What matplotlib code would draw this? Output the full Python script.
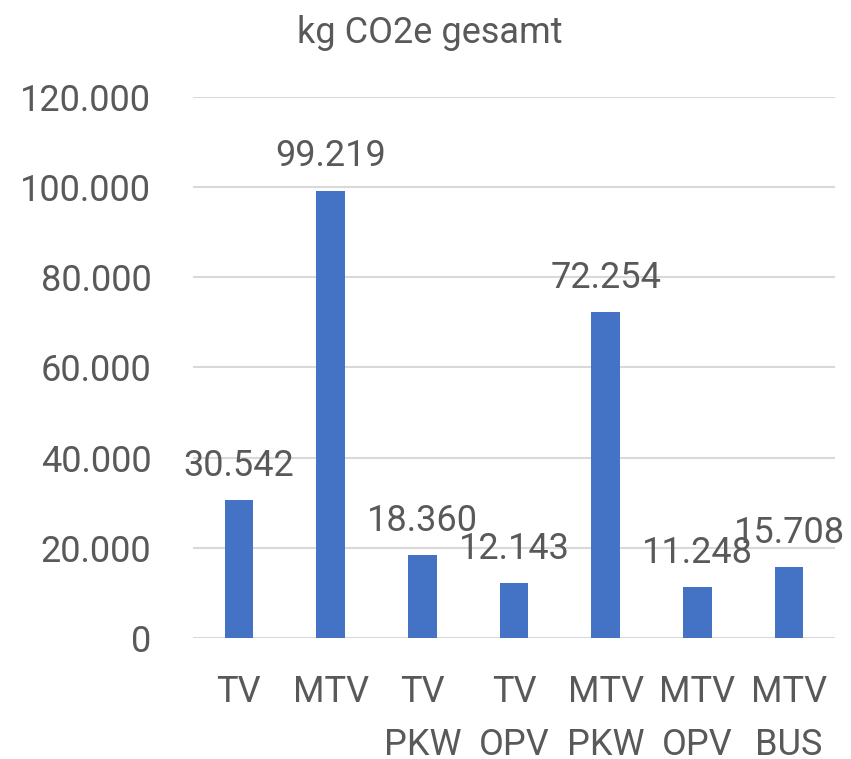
import matplotlib
matplotlib.use("Agg")
import matplotlib.pyplot as plt
from matplotlib.ticker import FuncFormatter

# data
categories = ["TV", "MTV", "TV\nPKW", "TV\nOPV", "MTV\nPKW", "MTV\nOPV", "MTV\nBUS"]
values = [30542, 99219, 18360, 12143, 72254, 11248, 15708]
title = "kg CO2e gesamt"

plt.rcParams['font.family'] = ['Roboto', 'DejaVu Sans']
txt = '#595959'

fig = plt.figure(figsize=(8.51, 7.59), dpi=100)
ax = fig.add_axes([193/851, (759-638)/759, (835-193)/851, (638-97)/759])

x = range(len(categories))
ax.bar(x, values, width=0.31, color='#4472C4', zorder=3)
ax.set_xlim(-0.5, len(categories)-0.5)
ax.set_ylim(0, 120000)
ax.set_yticks(range(0, 120001, 20000))

def fmt(v, pos=None):
    return f"{int(v):,}".replace(",", ".")

ax.yaxis.set_major_formatter(FuncFormatter(fmt))
ax.grid(axis='y', color='#D9D9D9', linewidth=1.5, zorder=0)
for s in ax.spines.values():
    s.set_visible(False)
ax.tick_params(axis='both', length=0, labelsize=26, labelcolor=txt)
ax.tick_params(axis='y', pad=30)
ax.tick_params(axis='x', pad=26)
ax.set_xticks(list(x))
ax.set_xticklabels(categories, linespacing=1.6)

for i, v in enumerate(values):
    ax.annotate(fmt(v), (i, v), xytext=(0, 12), textcoords='offset points',
                ha='center', va='bottom', fontsize=26, color=txt)

fig.text(430/851, 1-33/759, title, ha='center', va='center',
         fontsize=26, color=txt)

fig.savefig("out.png", dpi=100)
